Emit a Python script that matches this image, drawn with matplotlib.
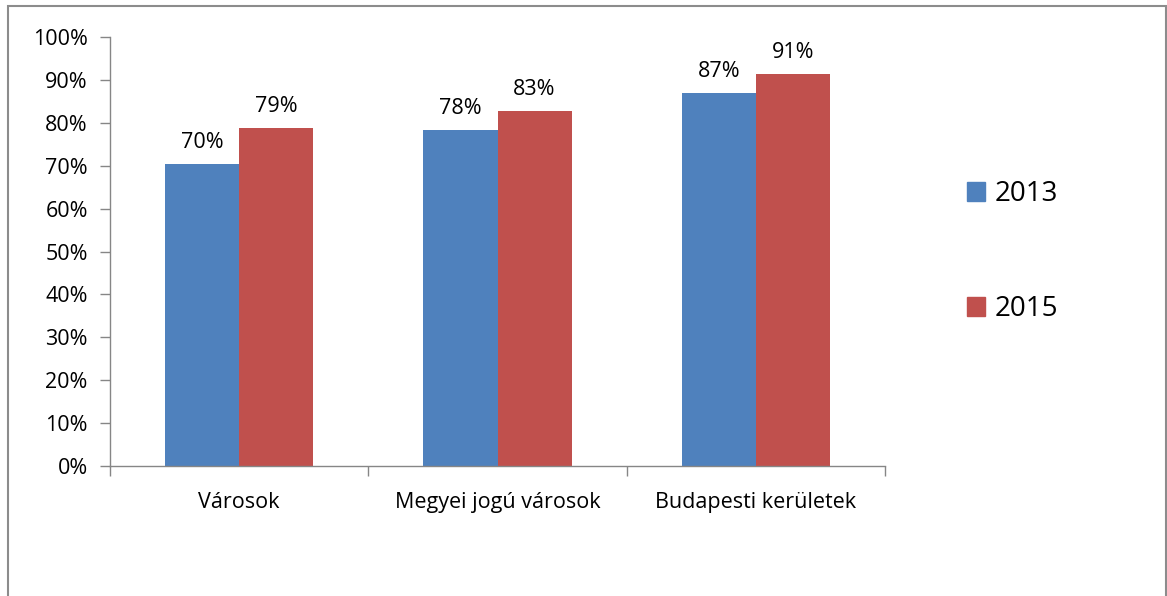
import matplotlib
matplotlib.use("Agg")
import matplotlib.pyplot as plt
from matplotlib.patches import Rectangle
from matplotlib.ticker import FuncFormatter, MultipleLocator
import numpy as np

categories = ["Városok", "Megyei jogú városok", "Budapesti kerületek"]
series_names = ["2013", "2015"]
values_2013 = [70.3, 78.3, 86.9]
values_2015 = [78.8, 82.7, 91.3]
labels_2013 = ["70%", "78%", "87%"]
labels_2015 = ["79%", "83%", "91%"]
colors = ["#4F81BD", "#C0504D"]

plt.rcParams['font.family'] = ['Open Sans', 'DejaVu Sans']

W, H = 1167, 596
fig = plt.figure(figsize=(W / 100, H / 100), dpi=100)

# outer frame
fig.patches.append(Rectangle((8 / W, -0.05), (1166 - 8) / W, 1.05 - 6 / H,
                             transform=fig.transFigure, fill=False,
                             edgecolor="#8C8C8C", linewidth=1.5))

left, right, top, bottom = 110, 885, 37, 466
ax = fig.add_axes([left / W, 1 - bottom / H, (right - left) / W, (bottom - top) / H])

x = np.arange(len(categories))
bw = 74 / 258.3
b1 = ax.bar(x - bw / 2, values_2013, bw, color=colors[0], label=series_names[0])
b2 = ax.bar(x + bw / 2, values_2015, bw, color=colors[1], label=series_names[1])

for bars, labs in ((b1, labels_2013), (b2, labels_2015)):
    for r, t in zip(bars, labs):
        ax.annotate(t, (r.get_x() + r.get_width() / 2, r.get_height()),
                    xytext=(0, 8), textcoords="offset points",
                    ha="center", va="bottom", fontsize=15.5, color="black")

ax.set_xlim(-0.5, len(categories) - 0.5)
ax.set_ylim(0, 100)
ax.yaxis.set_major_locator(MultipleLocator(10))
ax.yaxis.set_major_formatter(FuncFormatter(lambda v, p: f"{v:.0f}%"))
ax.set_xticks(x)
ax.set_xticklabels(categories, fontsize=15.5)
ax.tick_params(axis="x", length=0, pad=19)
ax.set_xticks(np.arange(len(categories) + 1) - 0.5, minor=True)
ax.tick_params(axis="x", which="minor", length=7, color="#868686", width=1)
ax.tick_params(axis="y", length=7, color="#868686", width=1, labelsize=15.5, pad=9)
for s in ("top", "right"):
    ax.spines[s].set_visible(False)
for s in ("left", "bottom"):
    ax.spines[s].set_color("#868686")
    ax.spines[s].set_linewidth(1)

# legend
handles = [Rectangle((0, 0), 1, 1, color=c) for c in colors]
leg = fig.legend(handles, series_names, loc="upper left",
                 bbox_to_anchor=(942 / W, 1 - 155 / H), frameon=False,
                 fontsize=20, handlelength=0.65, handleheight=0.65,
                 handletextpad=0.35, labelspacing=3.15)

fig.savefig("out.png", dpi=100)
